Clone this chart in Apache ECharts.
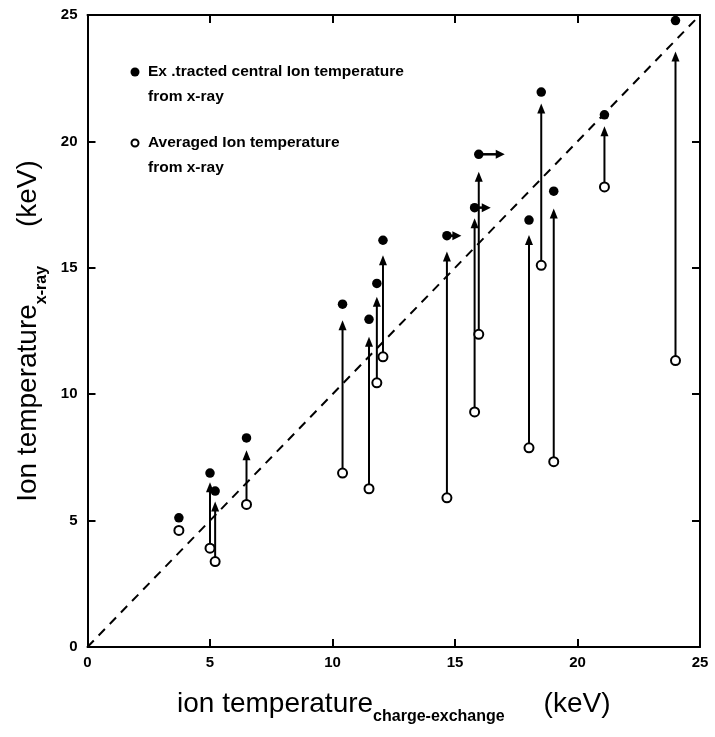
<!DOCTYPE html>
<html>
<head>
<meta charset="utf-8">
<script src="https://cdn.jsdelivr.net/npm/echarts@6/dist/echarts.min.js"></script>
<style>html,body{margin:0;padding:0;background:#fff}#c{width:715px;height:737px}</style>
</head>
<body>
<div id="c"></div>
<script>
// x: charge-exchange ion temperature (keV)
var ctxTemp   = [3.73, 5.0, 5.21, 6.49, 10.41, 11.49, 11.81, 12.06, 14.67, 15.80, 15.97, 18.02, 18.52, 19.03, 21.1, 24.0];
// extracted central ion temperature from x-ray (filled)
var centralT  = [5.11, 6.88, 6.17, 8.27, 13.56, 12.96, 14.38, 16.09, 16.27, 17.38, 19.49, 16.89, 21.95, 18.03, 21.05, 24.78];
// averaged ion temperature from x-ray (hollow)
var averagedT = [4.61, 3.91, 3.38, 5.64, 6.88, 6.26, 10.45, 11.48, 5.9, 9.3, 12.37, 7.88, 15.1, 7.33, 18.2, 11.33];
// tip of the upward arrow (null = no arrow)
var arrowTip  = [null, 6.52, 5.76, 7.78, 12.93, 12.27, 13.85, 15.5, 15.64, 16.96, 18.8, 16.3, 21.5, 17.35, 20.6, 23.56];
// rightward arrows from some filled points: x of tip (null = none)
var rightTip  = [null, null, null, null, null, null, null, null, 15.26, 16.46, 17.03, null, null, null, null, null];
var diagonal  = [[0, 0], [25, 25]];
var axisTicks = [0, 5, 10, 15, 20, 25];

var filledData = ctxTemp.map(function (x, i) { return [x, centralT[i]]; });
var hollowData = ctxTemp.map(function (x, i) { return [x, averagedT[i]]; });
var upData = [];
var rightData = [];
ctxTemp.forEach(function (x, i) {
  if (arrowTip[i] != null) upData.push([x, averagedT[i], arrowTip[i]]);
  if (rightTip[i] != null) rightData.push([x, centralT[i], rightTip[i]]);
});

var FONT = '"Liberation Sans", Arial, Helvetica, sans-serif';
var chart = echarts.init(document.getElementById('c'), null, {renderer: 'canvas'});

var axisCommon = {
  type: 'value', min: axisTicks[0], max: axisTicks[axisTicks.length - 1], interval: 5,
  splitLine: {show: false},
  axisLine: {show: true, onZero: false, lineStyle: {color: '#000', width: 2}},
  axisTick: {show: true, inside: true, length: 8, lineStyle: {color: '#000', width: 2}}
};
var titleRich = {
  a: {fontFamily: FONT, fontSize: 28, color: '#000', lineHeight: 42, verticalAlign: 'middle'},
  b: {fontFamily: FONT, fontSize: 16, fontWeight: 'bold', color: '#000', lineHeight: 42, verticalAlign: 'bottom'}
};

var option = {
  backgroundColor: '#fff',
  animation: false,
  grid: {left: 87.5, right: 15, top: 15, bottom: 90, containLabel: false},
  xAxis: [
    Object.assign({}, axisCommon, {
      position: 'bottom',
      axisLabel: {show: true, color: '#000', fontFamily: FONT, fontWeight: 'bold', fontSize: 15, margin: 8},
      name: '{a|ion temperature}{b|charge-exchange}{a|     (keV)}',
      nameLocation: 'middle', nameGap: 36,
      nameTextStyle: {rich: titleRich}
    }),
    Object.assign({}, axisCommon, {position: 'top', axisLabel: {show: false}})
  ],
  yAxis: [
    Object.assign({}, axisCommon, {
      position: 'left',
      axisLabel: {show: true, color: '#000', fontFamily: FONT, fontWeight: 'bold', fontSize: 15, margin: 10},
      name: '{a|Ion temperature}{b|x-ray}{a|     (keV)}',
      nameLocation: 'middle', nameGap: 38,
      nameTextStyle: {rich: titleRich}
    }),
    Object.assign({}, axisCommon, {position: 'right', axisLabel: {show: false}})
  ],
  graphic: [
    {type: 'circle', shape: {cx: 135, cy: 72, r: 4.5}, style: {fill: '#000'}},
    {type: 'text', x: 148, y: 72, style: {text: 'Ex .tracted central Ion temperature', fill: '#000', font: 'bold 15.5px ' + FONT, verticalAlign: 'middle'}},
    {type: 'text', x: 148, y: 97, style: {text: 'from x-ray', fill: '#000', font: 'bold 15.5px ' + FONT, verticalAlign: 'middle'}},
    {type: 'circle', shape: {cx: 135, cy: 143, r: 3.5}, style: {fill: '#fff', stroke: '#000', lineWidth: 2}},
    {type: 'text', x: 148, y: 143, style: {text: 'Averaged Ion temperature', fill: '#000', font: 'bold 15.5px ' + FONT, verticalAlign: 'middle'}},
    {type: 'text', x: 148, y: 168, style: {text: 'from x-ray', fill: '#000', font: 'bold 15.5px ' + FONT, verticalAlign: 'middle'}}
  ],
  series: [
    {
      type: 'line', data: diagonal, symbol: 'none', silent: true,
      lineStyle: {color: '#000', width: 2, type: [9, 7]}, z: 1
    },
    {
      type: 'custom', z: 2, data: upData,
      renderItem: function (params, api) {
        var p1 = api.coord([api.value(0), api.value(1)]);
        var p2 = api.coord([api.value(0), api.value(2)]);
        return {type: 'group', children: [
          {type: 'line', shape: {x1: p1[0], y1: p1[1], x2: p2[0], y2: p2[1] + 5}, style: {stroke: '#000', lineWidth: 2}},
          {type: 'polygon', shape: {points: [[p2[0], p2[1]], [p2[0] - 4, p2[1] + 10], [p2[0] + 4, p2[1] + 10]]}, style: {fill: '#000'}}
        ]};
      }
    },
    {
      type: 'custom', z: 2, data: rightData,
      renderItem: function (params, api) {
        var p1 = api.coord([api.value(0), api.value(1)]);
        var p2 = api.coord([api.value(2), api.value(1)]);
        return {type: 'group', children: [
          {type: 'line', shape: {x1: p1[0], y1: p1[1], x2: p2[0] - 5, y2: p2[1]}, style: {stroke: '#000', lineWidth: 2.5}},
          {type: 'polygon', shape: {points: [[p2[0], p2[1]], [p2[0] - 9, p2[1] - 4.5], [p2[0] - 9, p2[1] + 4.5]]}, style: {fill: '#000'}}
        ]};
      }
    },
    {
      type: 'scatter', data: filledData, symbol: 'circle', symbolSize: 9.5, z: 3,
      itemStyle: {color: '#000', opacity: 1}
    },
    {
      type: 'scatter', data: hollowData, symbol: 'circle', symbolSize: 9, z: 3,
      itemStyle: {color: '#fff', borderColor: '#000', borderWidth: 2, opacity: 1}
    }
  ]
};
chart.setOption(option);
</script>
</body>
</html>
